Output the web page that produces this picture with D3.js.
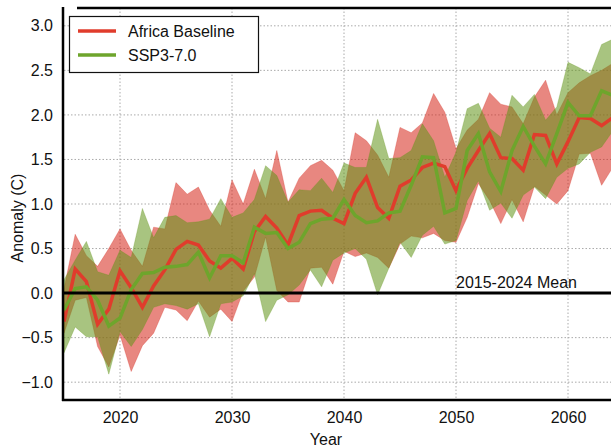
<!DOCTYPE html>
<html>
<head>
<meta charset="utf-8">
<script src="https://cdn.jsdelivr.net/npm/d3@7"></script>
<style>
  html, body { margin: 0; padding: 0; background: #fff; }
  svg { display: block; font-family: "Liberation Sans", Arial, Helvetica, sans-serif; }
</style>
</head>
<body>
<svg id="chart" width="611" height="447"></svg>
<script>
// Annual temperature anomaly projections, relative to the 2015-2024 mean
const years = d3.range(2015, 2065);

const baselineMean = [
  -0.32, 0.27, 0.13, -0.35, -0.18, 0.25, 0.06, -0.16, 0.08, 0.26,
  0.49, 0.58, 0.54, 0.36, 0.28, 0.39, 0.27, 0.69, 0.86, 0.73,
  0.54, 0.87, 0.92, 0.93, 0.84, 0.78, 1.12, 1.30, 0.96, 0.84,
  1.20, 1.27, 1.41, 1.46, 1.42, 1.15, 1.40, 1.60, 1.79, 1.52,
  1.51, 1.38, 1.78, 1.77, 1.45, 1.70, 1.97, 1.96, 1.88, 1.97
];
const baselineHigh = [
  0.05, 0.66, 0.42, 0.30, 0.50, 0.72, 0.48, 0.30, 0.74, 0.72,
  1.24, 1.11, 1.19, 0.93, 0.75, 1.27, 1.00, 1.39, 1.06, 1.60,
  1.02, 1.29, 1.43, 1.49, 1.38, 1.15, 1.80, 1.71, 1.55, 1.30,
  1.86, 1.80, 1.91, 2.24, 2.03, 1.62, 1.83, 1.95, 2.25, 2.12,
  2.09, 1.90, 2.20, 2.39, 2.00, 2.25, 2.36, 2.44, 2.50, 2.58
];
const baselineLow = [
  -0.45, -0.08, -0.05, -0.60, -0.83, -0.47, -0.88, -0.59, -0.45, -0.16,
  -0.19, -0.31, -0.09, -0.27, -0.18, -0.32, 0.02, 0.18, 0.63, 0.03,
  -0.10, -0.10, 0.28, 0.29, 0.10, 0.47, 0.41, 0.45, 0.40, 0.28,
  0.55, 0.64, 0.62, 0.67, 0.59, 0.57, 0.85, 1.23, 1.04, 0.78,
  1.05, 0.80, 1.20, 1.10, 1.00, 1.15, 1.56, 1.57, 1.21, 1.41
];

const sspMean = [
  -0.19, 0.05, 0.07, -0.08, -0.37, -0.28, 0.04, 0.22, 0.23, 0.29,
  0.30, 0.32, 0.46, 0.17, 0.42, 0.42, 0.34, 0.74, 0.67, 0.68,
  0.50, 0.57, 0.78, 0.83, 0.84, 1.05, 0.87, 0.79, 0.81, 0.90,
  0.92, 1.21, 1.53, 1.52, 0.90, 0.95, 1.60, 1.79, 1.36, 1.14,
  1.60, 1.87, 1.65, 1.45, 1.79, 2.14, 1.99, 1.99, 2.27, 2.22
];
const sspHigh = [
  0.15, 0.37, 0.58, 0.24, 0.20, 0.48, 0.40, 0.95, 0.62, 0.85,
  0.87, 0.79, 0.80, 0.83, 1.06, 0.85, 0.90, 1.05, 1.43, 1.32,
  1.02, 1.16, 1.15, 1.29, 1.13, 1.46, 1.41, 1.41, 1.95, 1.51,
  1.52, 1.60, 1.90, 1.71, 1.30, 1.58, 2.07, 2.13, 1.85, 1.75,
  2.22, 2.09, 2.23, 1.94, 2.09, 2.59, 2.53, 2.46, 2.79, 2.85
];
const sspLow = [
  -0.67, -0.38, -0.49, -0.49, -0.91, -0.43, -0.60, -0.41, -0.16, -0.12,
  -0.14, -0.18, -0.12, -0.49, -0.12, -0.10, -0.03, 0.22, -0.32, -0.08,
  -0.02, 0.09, 0.26, 0.07, 0.37, 0.45, 0.50, 0.38, -0.02, 0.28,
  0.57, 0.40, 0.65, 0.75, 0.55, 0.59, 1.04, 1.26, 0.93, 1.01,
  0.84, 1.10, 1.19, 1.06, 1.30, 1.40, 1.45, 1.58, 1.64, 1.82
];

const seriesNames = ["Africa Baseline", "SSP3-7.0"];
const xTicks = [2020, 2030, 2040, 2050, 2060];
const yTicks = [-1.0, -0.5, 0.0, 0.5, 1.0, 1.5, 2.0, 2.5, 3.0];
const referenceLabel = "2015-2024 Mean";

const series = [
  { name: seriesNames[0], mean: baselineMean, low: baselineLow, high: baselineHigh,
    line: "#e03c2c", fill: "rgb(213,36,24)" },
  { name: seriesNames[1], mean: sspMean, low: sspLow, high: sspHigh,
    line: "#6ea52c", fill: "rgb(97,148,24)" }
];

const W = 611, H = 447;
const plotLeft = 64, plotTop = 8, plotBottom = 400;
const fontSize = 16;
const ink = "#111";

const svg = d3.select("#chart");

const x = d3.scaleLinear().domain([2015, 2064]).range([plotLeft, plotLeft + 49 * 11.2]);
const y = d3.scaleLinear().domain([-1.2, 3.2]).range([plotBottom, plotTop]);

svg.append("defs").append("clipPath").attr("id", "plot-clip")
  .append("rect").attr("x", plotLeft).attr("y", plotTop)
  .attr("width", W - plotLeft).attr("height", plotBottom - plotTop);

// Dotted grid
const grid = svg.append("g");
grid.selectAll("line.gx").data(xTicks).join("line")
  .attr("class", "gx")
  .attr("x1", d => x(d)).attr("x2", d => x(d))
  .attr("y1", plotTop).attr("y2", plotBottom)
  .attr("stroke", "#aaa").attr("stroke-width", 1).attr("stroke-dasharray", "1.5,2");
grid.selectAll("line.gy").data(yTicks).join("line")
  .attr("class", "gy")
  .attr("x1", plotLeft).attr("x2", W)
  .attr("y1", d => y(d)).attr("y2", d => y(d))
  .attr("stroke", "#aaa").attr("stroke-width", 1).attr("stroke-dasharray", "1.5,2");

const plot = svg.append("g").attr("clip-path", "url(#plot-clip)");

// Uncertainty bands
series.forEach(s => {
  const area = d3.area()
    .x((d, i) => x(years[i]))
    .y0((d, i) => y(s.low[i]))
    .y1((d, i) => y(s.high[i]));
  plot.append("path").datum(years)
    .attr("d", area)
    .attr("fill", s.fill).attr("fill-opacity", 0.55)
    .attr("stroke", s.fill).attr("stroke-opacity", 0.35).attr("stroke-width", 0.8);
});

// Reference line at zero
svg.append("line")
  .attr("x1", plotLeft).attr("x2", W)
  .attr("y1", y(0)).attr("y2", y(0))
  .attr("stroke", "#000").attr("stroke-width", 3);

// Mean lines
series.forEach(s => {
  const line = d3.line()
    .x((d, i) => x(years[i]))
    .y((d, i) => y(s.mean[i]));
  plot.append("path").datum(years)
    .attr("d", line)
    .attr("fill", "none")
    .attr("stroke", s.line).attr("stroke-width", 3.5)
    .attr("stroke-linejoin", "miter");
});

svg.append("text")
  .attr("x", x(2050)).attr("y", y(0) - 5)
  .attr("font-size", fontSize).attr("fill", ink)
  .text(referenceLabel);

// Axes
const yAxis = d3.axisLeft(y).tickValues(yTicks).tickFormat(d3.format(".1f")).tickSize(0).tickPadding(11);
const gy = svg.append("g").attr("transform", `translate(${plotLeft},0)`).call(yAxis);
gy.select(".domain").remove();
gy.selectAll("text").attr("font-size", fontSize).attr("fill", ink)
  .attr("font-family", "Liberation Sans, Arial, sans-serif");

const xAxis = d3.axisBottom(x).tickValues(xTicks).tickFormat(d3.format("d")).tickSize(0).tickPadding(12);
const gx = svg.append("g").attr("transform", `translate(0,${plotBottom})`).call(xAxis);
gx.select(".domain").remove();
gx.selectAll("text").attr("font-size", fontSize).attr("fill", ink)
  .attr("font-family", "Liberation Sans, Arial, sans-serif");

// Frame lines
svg.append("line").attr("x1", plotLeft - 1).attr("x2", plotLeft - 1)
  .attr("y1", plotTop - 1).attr("y2", plotBottom + 1)
  .attr("stroke", "#000").attr("stroke-width", 2.5);
svg.append("line").attr("x1", plotLeft - 2).attr("x2", W)
  .attr("y1", plotBottom).attr("y2", plotBottom)
  .attr("stroke", "#000").attr("stroke-width", 2.5);
svg.append("line").attr("x1", 77).attr("x2", W)
  .attr("y1", plotTop).attr("y2", plotTop)
  .attr("stroke", "#000").attr("stroke-width", 2.5);

// Axis titles
svg.append("text")
  .attr("transform", "translate(23,218) rotate(-90)")
  .attr("text-anchor", "middle").attr("font-size", fontSize).attr("fill", ink)
  .text("Anomaly (C)");
svg.append("text")
  .attr("x", 326).attr("y", 445)
  .attr("text-anchor", "middle").attr("font-size", fontSize).attr("fill", ink)
  .text("Year");

// Legend
const legend = svg.append("g");
legend.append("rect")
  .attr("x", 69.5).attr("y", 16.5).attr("width", 189).attr("height", 56)
  .attr("fill", "#fff").attr("stroke", "#111").attr("stroke-width", 1.2);
series.forEach((s, i) => {
  const ly = 31 + i * 24;
  legend.append("line")
    .attr("x1", 78).attr("x2", 116).attr("y1", ly).attr("y2", ly)
    .attr("stroke", s.line).attr("stroke-width", 3.5);
  legend.append("text")
    .attr("x", 128).attr("y", ly + 6)
    .attr("font-size", fontSize).attr("fill", ink)
    .text(s.name);
});
</script>
</body>
</html>
